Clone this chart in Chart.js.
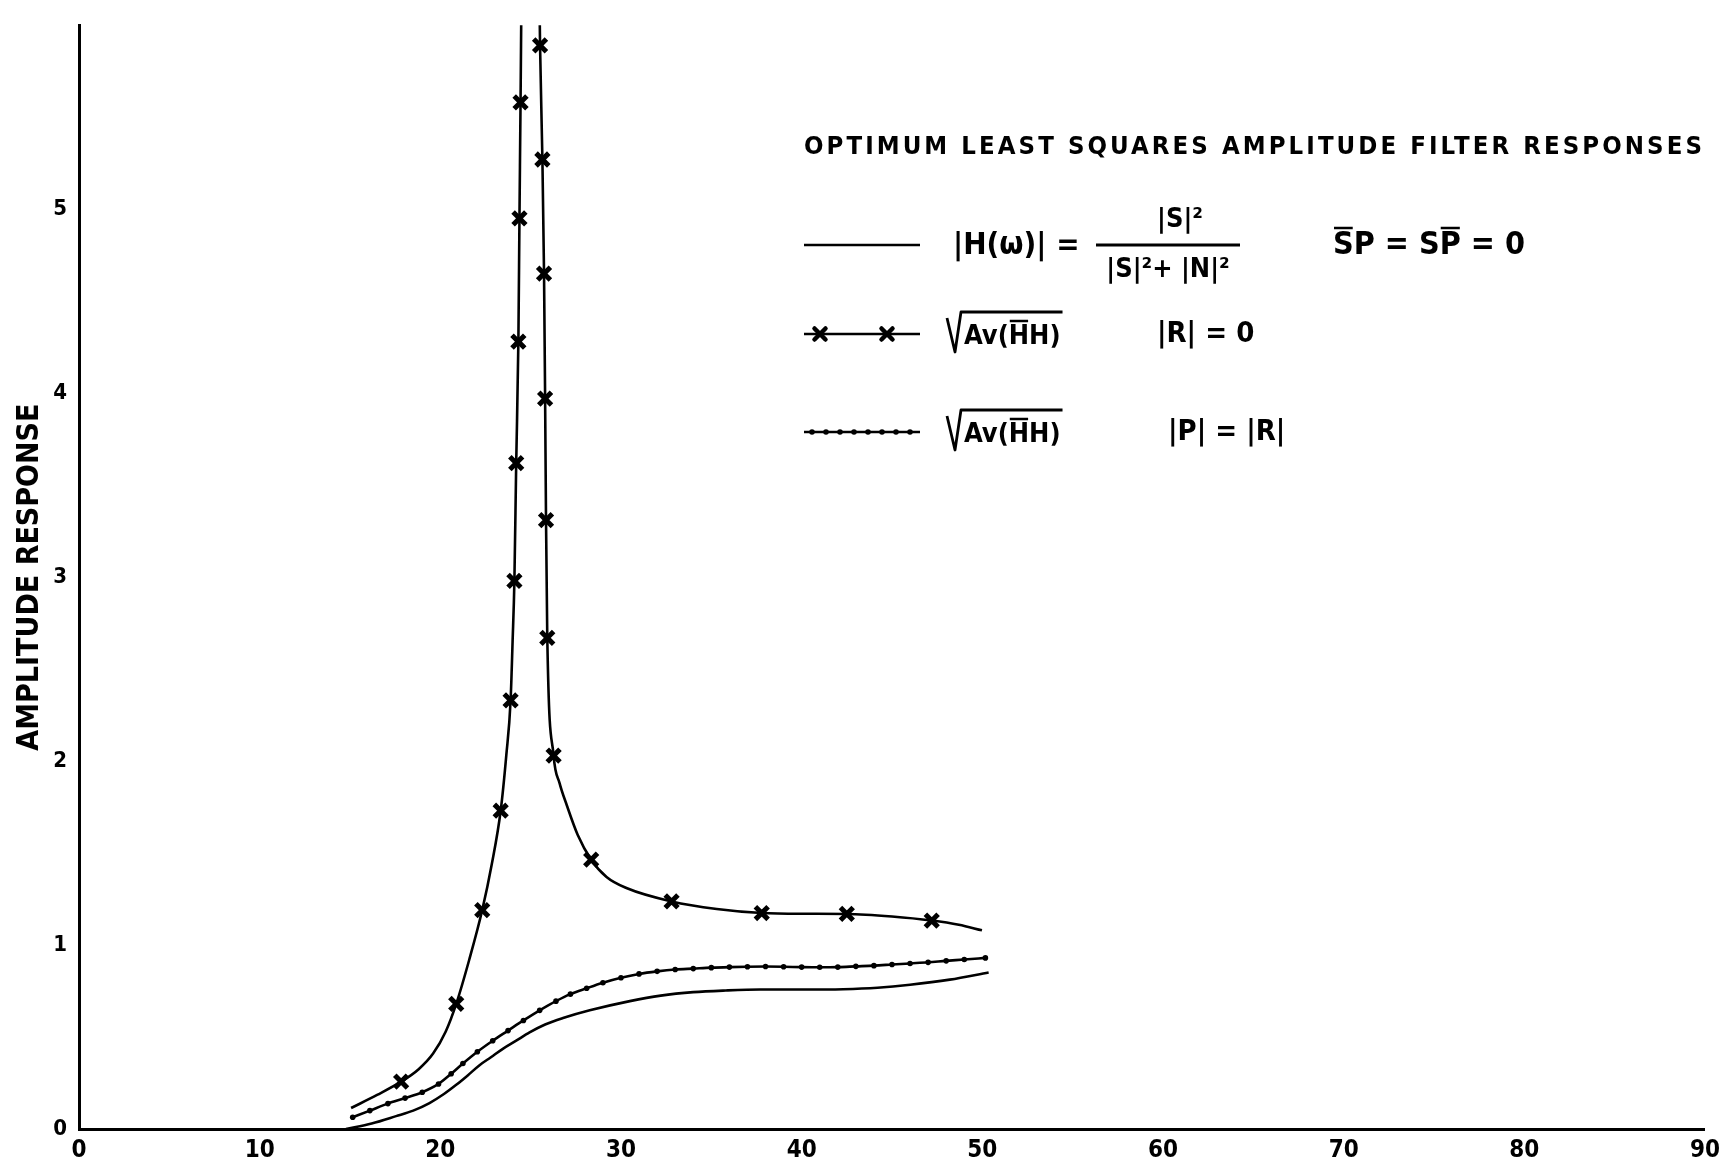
<!DOCTYPE html>
<html><head><meta charset="utf-8">
<script src="https://cdn.jsdelivr.net/npm/chart.js@4.4.1/dist/chart.umd.min.js"></script>
<style>html,body{margin:0;padding:0;background:#fff;overflow:hidden}#wrap{width:1727px;height:1175px}</style>
</head><body><div id="wrap"><canvas id="c" width="1727" height="1175"></canvas></div>
<script>
// ---- data ----
const xTickValues = [0,10,20,30,40,50,60,70,80,90];
const yTickValues = [0,1,2,3,4,5];
const titleText = 'OPTIMUM LEAST SQUARES AMPLITUDE FILTER RESPONSES';
const yAxisTitle = 'AMPLITUDE RESPONSE';

// sqrt(Av(H̄H)), |R| = 0  (starred curve, pole between the two branches)
const rZeroX = [15.06,16.5,17.83,18.8,19.6,20.3,20.88,21.6,22.32,22.85,23.34,23.65,23.89,24.0,24.1,24.2,24.32,24.38,24.44,24.48,25.0,25.5,25.52,25.65,25.74,25.8,25.85,25.92,26.27,26.6,27.0,27.6,28.35,29.2,30.3,32.8,35.3,37.79,40.2,42.5,45.0,47.2,48.7,49.98];
const rZeroY = [0.114,0.185,0.257,0.325,0.41,0.53,0.68,0.92,1.19,1.44,1.73,2.03,2.33,2.65,2.98,3.62,4.28,4.95,5.58,6.05,null,6.05,5.89,5.27,4.65,3.97,3.31,2.67,2.03,1.88,1.76,1.60,1.464,1.37,1.31,1.237,1.196,1.174,1.17,1.169,1.155,1.133,1.11,1.08];
const rZeroMarkX = [17.83,20.88,22.32,23.34,23.89,24.1,24.2,24.32,24.38,24.44,25.52,25.65,25.74,25.8,25.85,25.92,26.27,28.35,32.8,37.79,42.5,47.2];
const rZeroMarkY = [0.257,0.68,1.19,1.73,2.33,2.98,3.62,4.28,4.95,5.58,5.89,5.27,4.65,3.97,3.31,2.67,2.03,1.464,1.237,1.174,1.169,1.133];

// sqrt(Av(H̄H)), |P| = |R|  (dotted curve)
const pEqRX = [15.15,16.1,17.1,18.05,19.0,19.9,20.6,21.25,22.05,22.9,23.75,24.6,25.5,26.4,27.2,28.1,29.0,30,31,32,33,34,35,36,37,38,39,40,41,42,43,44,45,46,47,48,49,50.17];
const pEqRY = [0.064,0.10,0.138,0.168,0.20,0.245,0.30,0.356,0.42,0.48,0.535,0.59,0.645,0.695,0.733,0.765,0.795,0.822,0.843,0.857,0.867,0.872,0.877,0.880,0.882,0.883,0.882,0.880,0.879,0.880,0.884,0.888,0.894,0.900,0.906,0.914,0.921,0.930];

// |H(w)| = |S|^2/(|S|^2+|N|^2)  (plain curve)
const hX = [14.78,16.2,17.55,18.5,19.4,20.2,20.88,21.5,22.17,22.8,23.46,24.2,24.94,25.8,26.79,28.27,30.49,32.2,34.0,35.8,37.7,40.0,42.3,44.2,46.0,48.2,50.35];
const hY = [0.0,0.03,0.07,0.10,0.141,0.19,0.24,0.29,0.347,0.39,0.436,0.48,0.525,0.568,0.603,0.645,0.695,0.725,0.744,0.753,0.758,0.758,0.760,0.768,0.784,0.812,0.851];

const pts = (xs, ys) => xs.map((x, i) => ({x, y: ys[i]}));

const FONT = '"DejaVu Sans Condensed","DejaVu Sans",sans-serif';

function drawX(c, x, y, r, w) {
  c.save(); c.lineWidth = w; c.lineCap = 'round';
  c.beginPath(); c.moveTo(x - r, y - r); c.lineTo(x + r, y + r);
  c.moveTo(x - r, y + r); c.lineTo(x + r, y - r); c.stroke(); c.restore();
}
function overbar(c, x1, x2, y) {
  c.save(); c.lineWidth = 2.5; c.beginPath(); c.moveTo(x1, y); c.lineTo(x2, y); c.stroke(); c.restore();
}
function radical(c, x, y, text) {
  c.save();
  c.font = 'bold 27px ' + FONT;
  c.textBaseline = 'middle'; c.textAlign = 'left';
  const tx = x + 17;
  const w = c.measureText(text).width;
  c.lineWidth = 2.8; c.lineJoin = 'round';
  c.beginPath();
  c.moveTo(x, y - 16); c.lineTo(x + 8, y + 18); c.lineTo(x + 14, y - 22); c.lineTo(tx + w + 2, y - 22);
  c.stroke();
  c.fillText(text, tx, y + 3);
  const pre = c.measureText('Av(').width;
  const hw = c.measureText('H').width;
  overbar(c, tx + pre + 1, tx + pre + hw - 1, y - 13);
  c.restore();
}

const annotations = {
  id: 'annotations',
  afterDraw(chart) {
    const c = chart.ctx;
    c.save();
    c.fillStyle = '#000'; c.strokeStyle = '#000';
    c.textBaseline = 'middle'; c.textAlign = 'left';
    // title
    c.font = 'bold 25px ' + FONT;
    c.letterSpacing = '3px';
    const tw = c.measureText(titleText).width;
    c.save(); c.translate(804, 147); c.scale(901 / tw, 1); c.fillText(titleText, 0, 0); c.restore();
    c.letterSpacing = '0px';

    // row 1 : plain line
    c.lineWidth = 2.6;
    c.beginPath(); c.moveTo(804, 245); c.lineTo(920, 245); c.stroke();
    c.font = 'bold 31px ' + FONT;
    c.fillText('|H(ω)| =', 953, 246);
    c.lineWidth = 3;
    c.beginPath(); c.moveTo(1096, 245); c.lineTo(1240, 245); c.stroke();
    c.textAlign = 'center';
    c.font = 'bold 27px ' + FONT;
    c.fillText('|S|²', 1180, 220);
    c.fillText('|S|²+ |N|²', 1168, 270);
    c.textAlign = 'left';
    c.font = 'bold 32px ' + FONT;
    let x = 1333;
    const y1 = 246;
    const wS = c.measureText('S').width;
    c.fillText('S', x, y1); overbar(c, x + 1, x + wS - 1, y1 - 18);
    x += wS;
    c.fillText('P = ', x, y1); x += c.measureText('P = ').width;
    c.fillText('S', x, y1); x += c.measureText('S').width;
    const wP = c.measureText('P').width;
    c.fillText('P', x, y1); overbar(c, x + 1, x + wP - 1, y1 - 18);
    x += wP;
    c.fillText(' = 0', x, y1);

    // row 2 : starred line
    c.lineWidth = 2.6;
    c.beginPath(); c.moveTo(804, 334); c.lineTo(920, 334); c.stroke();
    drawX(c, 820, 334, 5.5, 4.5); drawX(c, 887, 334, 5.5, 4.5);
    radical(c, 947, 334, 'Av(HH)');
    c.font = 'bold 29px ' + FONT;
    c.fillText('|R| = 0', 1157, 334);

    // row 3 : dotted line
    c.lineWidth = 2.6;
    c.beginPath(); c.moveTo(804, 432); c.lineTo(920, 432); c.stroke();
    for (let dx = 812; dx <= 914; dx += 14) { c.beginPath(); c.arc(dx, 432, 2.8, 0, Math.PI * 2); c.fill(); }
    radical(c, 947, 432, 'Av(HH)');
    c.font = 'bold 29px ' + FONT;
    c.fillText('|P| = |R|', 1168, 432);
    c.restore();
  }
};

new Chart(document.getElementById('c'), {
  type: 'line',
  data: {
    datasets: [
      { label: '|H(ω)| = |S|²/(|S|²+|N|²)', data: pts(hX, hY), borderColor: '#000', borderWidth: 2.6,
        pointRadius: 0, cubicInterpolationMode: 'monotone', fill: false },
      { label: '√Av(H̄H)  |P| = |R|', data: pts(pEqRX, pEqRY), borderColor: '#000', backgroundColor: '#000',
        borderWidth: 2.6, pointRadius: 2.8, pointBorderWidth: 0, pointStyle: 'circle', cubicInterpolationMode: 'monotone', fill: false },
      { label: '√Av(H̄H)  |R| = 0', data: pts(rZeroX, rZeroY), borderColor: '#000', borderWidth: 2.6,
        pointRadius: 0, spanGaps: false, cubicInterpolationMode: 'monotone', fill: false },
      { label: 'markers |R| = 0', data: pts(rZeroMarkX, rZeroMarkY), showLine: false, borderColor: '#000',
        pointStyle: 'crossRot', pointRadius: 9, pointBorderWidth: 5, pointBorderColor: '#000' }
    ]
  },
  options: {
    responsive: false, animation: false, devicePixelRatio: 1,
    layout: { padding: { top: 9, right: 14, left: 0, bottom: 0 } },
    plugins: { legend: { display: false }, tooltip: { enabled: false } },
    scales: {
      x: {
        type: 'linear', min: 0, max: 90,
        afterBuildTicks: s => { s.ticks = xTickValues.map(v => ({value: v})); },
        afterFit: s => { s.height = 46; },
        grid: { display: false, drawTicks: false },
        border: { display: true, width: 3, color: '#000' },
        ticks: { color: '#000', padding: 7, font: { family: FONT, size: 24, weight: 'bold' } }
      },
      y: {
        min: 0, max: 6,
        afterBuildTicks: s => { s.ticks = yTickValues.map(v => ({value: v})); },
        afterFit: s => { s.width = 79; },
        grid: { display: false, drawTicks: false },
        border: { display: true, width: 3, color: '#000' },
        ticks: { color: '#000', padding: 12, font: { family: FONT, size: 22, weight: 'bold' } },
        title: { display: true, text: yAxisTitle, color: '#000', padding: { top: 12, bottom: 0 },
                 font: { family: FONT, size: 30, weight: 'bold' } }
      }
    }
  },
  plugins: [annotations]
});
</script></body></html>
